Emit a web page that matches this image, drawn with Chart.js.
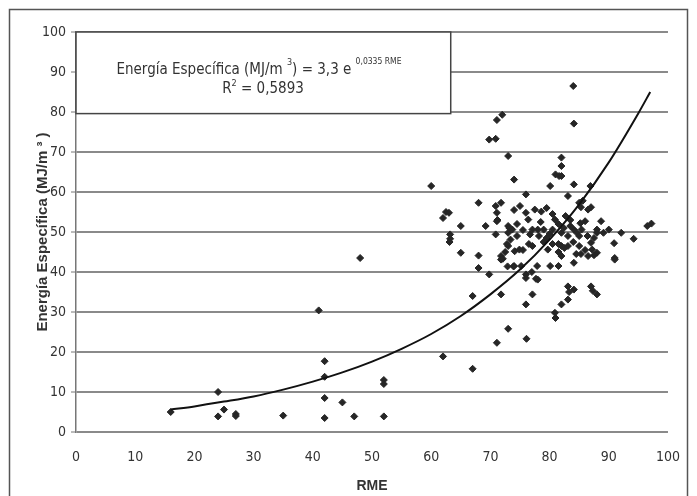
<!DOCTYPE html>
<html>
<head>
<meta charset="utf-8">
<script src="https://cdn.jsdelivr.net/npm/chart.js@4.4.1/dist/chart.umd.min.js"></script>
<style>
  html, body { margin: 0; padding: 0; background: #fff; }
  #wrap { width: 697px; height: 496px; position: relative; }
</style>
</head>
<body>
<div id="wrap"><canvas id="scatter_chart"></canvas></div>
<script>
// RME vs energia especifica
var rmeValues = [16,24,24,25,27,27,35,41,42,42,42,42,45,47,48,52,52,52,
  60,62,62,62.5,63,63.2,63.2,65,65,67,67,68,68,68,69.2,69.8,69.8,70.9,71.1,72,71.1,70.9,71.1,71.1,70.9,
  71.8,71.8,71.8,71.8,73,73,73,73.4,73,73,73.7,74,74,74,74.1,74.5,74.9,75.2,76,76,76,76,76.1,76.4,76.7,
  77.1,77.1,77.1,77.5,77.9,78,78,78.2,78.6,79,79.7,80.1,80.1,80.5,80.9,80.9,81,81,81.6,82,82,82,82,82,82,82,
  82.4,82.7,83.1,83.1,83.1,83.1,83.1,84,84.1,84.1,84.1,84.1,84.1,84.6,85,85,85.4,86,86.5,86.9,87,87,87.2,
  88,88,88,88,88.7,89.1,90,91,91,92.1,94.2,96.5,97.2,
  72.5,72.8,73.2,72.9,73.9,75.5,76.5,78.5,79,79.5,76,77,77.7,72.1,71.2,63.1,74.5,75.5,80.5,81.5,81.5,83.5,
  83.5,85,86,84,80,80.5,79.5,75,
  85.6,85.3,87,85.2,86.4,87.5,90.9,81.5,82.5,84.5,85.3,86.5,87.5,81.5,83.3,87.3];
var energyValues = [5,10,3.9,5.6,4.5,4,4.1,30.4,17.7,13.8,8.5,3.5,7.4,3.9,43.5,13,12,3.9,
  61.5,18.9,53.5,55,54.8,49.4,48.3,51.5,44.8,15.8,34,57.3,44.1,41,51.5,39.4,73.1,73.3,78,79.3,22.3,56.5,54.8,52.7,49.4,
  57.3,44,43.1,34.4,69,51.5,49.8,48.1,25.8,46.5,50.6,63.1,55.5,41.5,45.2,49,45.6,41.5,59.4,54.8,39.4,31.9,23.3,53.1,49.4,
  50.6,46.5,34.4,55.6,41.5,38.1,50.6,49,55.1,50.6,45.6,61.5,41.5,50.6,53.1,29.8,28.5,64.4,64,68.6,66.5,64,49.8,46.5,44,31.9,
  51,54,59,49,46.5,36.4,33.1,86.5,77.1,61.9,50.6,42.3,35.6,49.8,57.3,46.5,50.6,52.7,55.6,61.5,47.3,36.4,45.6,
  50.6,49.8,44.8,34.4,52.7,49.8,50.6,43.5,43.1,49.8,48.3,51.5,52.1,
  45,47,51,41.4,41.4,45.5,47,52.5,47.5,48.5,38.5,40,38.3,43.3,53,47.5,52,50.5,47,45,52,51.5,
  53,49,45.5,47.5,49.5,54.5,56,56.5,
  57.8,56.2,56.2,52.2,49,48.5,47.2,47,46,44.5,44.5,44,44.2,41.5,35,35.3];

// exponential trend line as drawn in the figure
var trendX = [16,20,25,30,35,40,45,50,55,60,65,70,75,80,85,90,95,97];
var trendY = [5.6,6.4,7.6,8.9,10.6,12.6,14.9,17.6,20.8,24.5,29,34.4,40.6,48.1,56.9,67.4,79.7,85];

var xTicks = [0,10,20,30,40,50,60,70,80,90,100];
var yTicks = [0,10,20,30,40,50,60,70,80,90,100];

var pts = [];
for (var i = 0; i < rmeValues.length; i++) {
  pts.push({x: rmeValues[i], y: energyValues[i]});
}
var trend = [];
for (var j = 0; j < trendX.length; j++) {
  trend.push({x: trendX[j], y: trendY[j]});
}

var narrow = '"DejaVu Sans Condensed", "Liberation Sans", Arial, sans-serif';
var boldFace = '"Liberation Sans", Arial, sans-serif';

// frame round the figure + the equation box
var extras = {
  id: 'extras',
  beforeDraw: function(chart) {
    var c = chart.ctx;
    c.save();
    c.fillStyle = '#fff';
    c.fillRect(0, 0, chart.width, chart.height);
    c.strokeStyle = '#555';
    c.lineWidth = 1.5;
    c.strokeRect(9.5, 9.5, 678, 495);
    c.restore();
  },
  afterDraw: function(chart) {
    var c = chart.ctx;
    var xs = chart.scales.x, ys = chart.scales.y;
    var x0 = xs.getPixelForValue(0), x1 = xs.getPixelForValue(63.3);
    var y0 = ys.getPixelForValue(100), y1 = ys.getPixelForValue(79.6);
    c.save();
    c.fillStyle = '#fff';
    c.fillRect(x0, y0, x1 - x0, y1 - y0);
    c.strokeStyle = '#444';
    c.lineWidth = 1.5;
    c.strokeRect(x0, y0, x1 - x0, y1 - y0);

    c.fillStyle = '#333';
    c.textBaseline = 'alphabetic';
    var big = '15px ' + narrow, small = '9px ' + narrow, tiny = '8.5px ' + narrow;
    var parts = [
      [big, 'Energía Específica (MJ/m ', 0],
      [small, '3', -9],
      [big, ') = 3,3 e ', 0],
      [tiny, '0,0335 RME', -10]
    ];
    var w = 0;
    parts.forEach(function(p) { c.font = p[0]; w += c.measureText(p[1]).width; });
    var cx = 259, bx = cx - w / 2, base = 74;
    parts.forEach(function(p) {
      c.font = p[0];
      c.fillText(p[1], bx, base + p[2]);
      bx += c.measureText(p[1]).width;
    });

    var l2 = [[big, 'R', 0], [small, '2', -7], [big, ' = 0,5893', 0]];
    w = 0;
    l2.forEach(function(p) { c.font = p[0]; w += c.measureText(p[1]).width; });
    bx = 263 - w / 2; base = 93;
    l2.forEach(function(p) {
      c.font = p[0];
      c.fillText(p[1], bx, base + p[2]);
      bx += c.measureText(p[1]).width;
    });
    c.restore();
  }
};

var ctx = document.getElementById('scatter_chart').getContext('2d');
var myChart = new Chart(ctx, {
  type: 'scatter',
  data: {
    datasets: [{
      label: 'Datos',
      data: pts,
      pointStyle: 'rectRot',
      pointRadius: 3.5,
      backgroundColor: '#262626',
      borderColor: '#262626',
      borderWidth: 1,
      order: 2
    }, {
      label: 'Tendencia',
      type: 'line',
      data: trend,
      borderColor: '#111',
      borderWidth: 2,
      pointRadius: 0,
      fill: false,
      cubicInterpolationMode: 'monotone',
      order: 1
    }]
  },
  options: {
    responsive: true,
    maintainAspectRatio: false,
    animation: false,
    layout: { padding: { left: 31, right: 28, top: 32, bottom: 0 } },
    plugins: { legend: { display: false }, tooltip: { enabled: false } },
    scales: {
      x: {
        type: 'linear', min: 0, max: 100,
        afterBuildTicks: function(s) { s.ticks = xTicks.map(function(v) { return {value: v}; }); },
        afterFit: function(s) { s.height = 64; },
        grid: { display: false, drawTicks: false },
        border: { display: false },
        ticks: { padding: 17, color: '#333', font: { family: narrow, size: 14 }, maxRotation: 0 },
        title: { display: true, text: 'RME', color: '#333', padding: { top: 0, bottom: 1 },
                 font: { family: boldFace, size: 14, weight: 'bold' } }
      },
      y: {
        type: 'linear', min: 0, max: 100,
        afterBuildTicks: function(s) { s.ticks = yTicks.map(function(v) { return {value: v}; }); },
        afterFit: function(s) { s.width = 45; },
        grid: { color: '#8a8a8a', lineWidth: 2, tickLength: 5, tickColor: '#777', tickWidth: 1 },
        border: { display: true, color: '#777', width: 1.5 },
        ticks: { padding: 5, color: '#333', font: { family: narrow, size: 14 } },
        title: { display: true, text: 'Energía Específica (MJ/m ³ )', color: '#333', padding: { top: 3, bottom: 0 },
                 font: { family: boldFace, size: 15, weight: 'bold' } }
      }
    }
  },
  plugins: [extras]
});
</script>
</body>
</html>
